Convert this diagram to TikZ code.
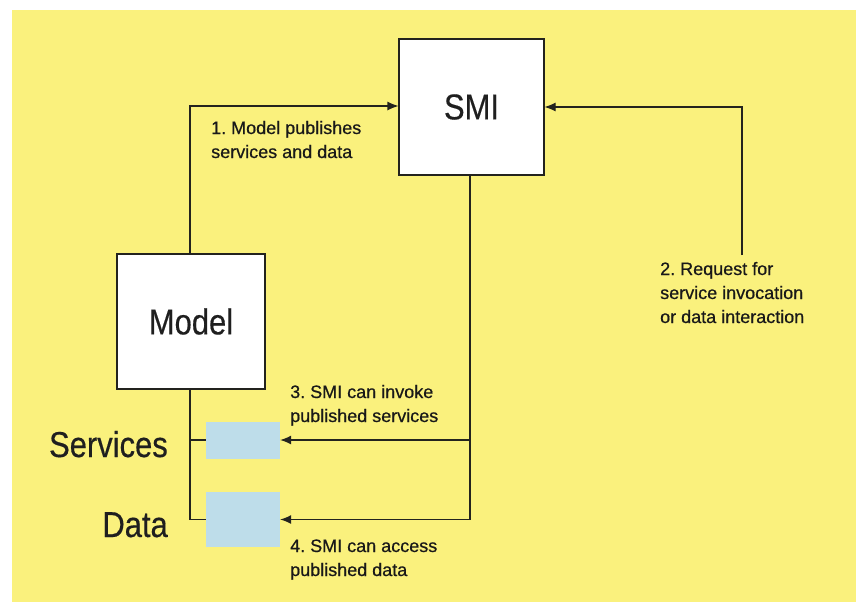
\documentclass[tikz,border=0pt]{standalone}
\usepackage{fontspec}
\setmainfont{Liberation Sans}
\newfontfamily\smallfont[FakeBold=0.6]{Liberation Sans}
\newfontfamily\bigfont[FakeStretch=0.86,FakeBold=0.4]{Liberation Sans}
\usetikzlibrary{arrows.meta}
\definecolor{bgyellow}{RGB}{250,241,125}
\definecolor{lightblue}{RGB}{190,221,234}
\definecolor{linegray}{RGB}{35,35,30}
\frenchspacing
\tikzset{
  mainbox/.style={draw=linegray, line width=1.1pt, fill=white, inner sep=0pt},
  bluebox/.style={fill=lightblue, draw=none, inner sep=0pt},
  conn/.style={draw=linegray, line width=1.1pt},
  arr/.style={conn, -{Latex[length=11pt,width=9pt]}},
  lab/.style={anchor=base west, inner sep=0pt, align=left,
    font=\smallfont\frenchspacing\fontsize{18}{24}\selectfont, text=black!90},
  biglab/.style={font=\bigfont\fontsize{36}{40}\selectfont, text=black!88, inner sep=0pt}
}
\begin{document}
\begin{tikzpicture}[x=1pt,y=-1pt]
\useasboundingbox (0,0) rectangle (861,602);
\fill[white] (0,0) rectangle (861,602);
\fill[bgyellow] (12,10) rectangle (856,602);

\node[mainbox, minimum width=145pt, minimum height=136pt] (smi) at (471.5,107) {};
\node[biglab] (smit) at (smi.center) {SMI};
\node[mainbox, minimum width=148pt, minimum height=135pt] (model) at (191,321.5) {};
\node[biglab] (modelt) at (model.center) {Model};
\node[bluebox, minimum width=74pt, minimum height=37pt] (serv) at (243,440) {};
\node[bluebox, minimum width=74pt, minimum height=55pt] (data) at (243,519.5) {};

\node[biglab, anchor=base east] (servt) at (168,457) {Services};
\node[biglab, anchor=base east] (datat) at (168,537) {Data};

\coordinate (c1) at (742,255);
\coordinate (c1b) at (742,107);
\coordinate (mtop) at (190,106);
\coordinate (sbot) at (470,519.5);
\coordinate (mbot) at (190,519.5);

\draw[arr] (model.north -| mtop) -- (mtop) -- (smi.west |- mtop);
\draw[arr] (c1) -- (c1b) -- (smi.east);
\draw[conn] (smi.south -| sbot) -- (sbot);
\draw[arr] (serv.east -| sbot) -- (serv.east);
\draw[arr] (sbot) -- (data.east);
\draw[conn] (model.south -| mbot) -- (mbot) -- (data.west);
\draw[conn] (serv.west -| mbot) -- (serv.west);

\node[lab] (l1) at (211,158) {1. Model publishes\\services and data};
\node[lab] (l2) at (660,323) {2. Request for\\service invocation\\or data interaction};
\node[lab] (l3) at (290,422) {3. SMI can invoke\\published services};
\node[lab] (l4) at (290,576) {4. SMI can access\\published data};
\end{tikzpicture}
\end{document}
